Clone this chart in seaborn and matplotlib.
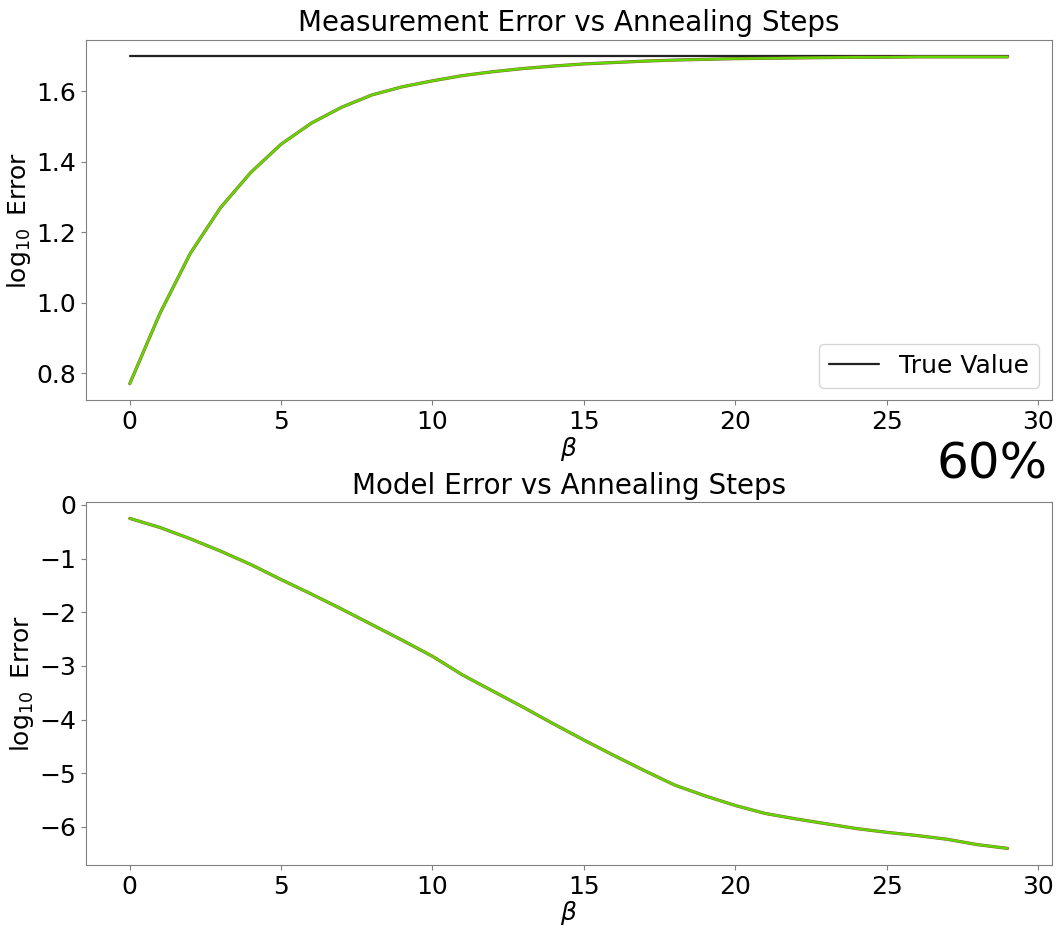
import matplotlib
matplotlib.use("Agg")
import matplotlib.pyplot as plt
import seaborn as sns
import pandas as pd

# Annealing steps (beta) and the logged errors at each step
beta = list(range(30))
measurement_err = [0.77, 0.97, 1.14, 1.27, 1.37, 1.45, 1.51, 1.555, 1.59, 1.613,
                   1.63, 1.645, 1.656, 1.665, 1.672, 1.678, 1.682, 1.686, 1.689, 1.691,
                   1.693, 1.694, 1.695, 1.696, 1.697, 1.697, 1.698, 1.698, 1.698, 1.698]
model_err = [-0.25, -0.42, -0.63, -0.86, -1.11, -1.39, -1.66, -1.94, -2.23, -2.52,
             -2.82, -3.17, -3.47, -3.77, -4.08, -4.38, -4.67, -4.95, -5.22, -5.42,
             -5.60, -5.75, -5.85, -5.94, -6.03, -6.10, -6.16, -6.23, -6.33, -6.40]
true_value = 1.70
progress_label = "60%"

sns.set_style("white")
plt.rcParams["font.family"] = ["DejaVu Sans"]
plt.rcParams["text.color"] = "black"
plt.rcParams["axes.labelcolor"] = "black"
plt.rcParams["axes.edgecolor"] = "#808080"
plt.rcParams["xtick.bottom"] = True
plt.rcParams["ytick.left"] = True
plt.rcParams["xtick.color"] = "#808080"
plt.rcParams["ytick.color"] = "#808080"
plt.rcParams["xtick.labelcolor"] = "black"
plt.rcParams["ytick.labelcolor"] = "black"

df_meas = pd.DataFrame({"beta": beta, "err": measurement_err})
df_model = pd.DataFrame({"beta": beta, "err": model_err})
df_true = pd.DataFrame({"beta": [beta[0], beta[-1]], "err": [true_value, true_value]})

fig = plt.figure(figsize=(10.6, 9.26), dpi=100)
ax1 = fig.add_axes([0.081, 0.568, 0.911, 0.389])
ax2 = fig.add_axes([0.081, 0.066, 0.911, 0.392])

under = "#8a5a3a"
green = "#62d800"

# top panel: measurement error approaching the true value
sns.lineplot(data=df_true, x="beta", y="err", ax=ax1, color="#222222", lw=1.6, label="True Value")
sns.lineplot(data=df_meas, x="beta", y="err", ax=ax1, color=under, lw=2.3, legend=False)
sns.lineplot(data=df_meas, x="beta", y="err", ax=ax1, color=green, lw=1.7, legend=False)
ax1.set_title("Measurement Error vs Annealing Steps", fontsize=20, color="black")
ax1.set_xlabel(r"$\beta$", fontsize=18, labelpad=1)
ax1.set_ylabel(r"$\log_{10}$ Error", fontsize=18, labelpad=2)
ax1.set_xticks([0, 5, 10, 15, 20, 25, 30])
ax1.set_yticks([0.8, 1.0, 1.2, 1.4, 1.6])
ax1.tick_params(labelsize=18)
leg = ax1.legend(loc="lower right", fontsize=18)
for t in leg.get_texts():
    t.set_color("black")

# bottom panel: model error decay
sns.lineplot(data=df_model, x="beta", y="err", ax=ax2, color=under, lw=2.3)
sns.lineplot(data=df_model, x="beta", y="err", ax=ax2, color=green, lw=1.7)
ax2.set_title("Model Error vs Annealing Steps", fontsize=20, color="black")
ax2.set_xlabel(r"$\beta$", fontsize=18, labelpad=0)
ax2.set_ylabel(r"$\log_{10}$ Error", fontsize=18, labelpad=2)
ax2.set_xticks([0, 5, 10, 15, 20, 25, 30])
ax2.set_yticks([0, -1, -2, -3, -4, -5, -6])
ax2.tick_params(labelsize=18)

fig.text(0.988, 0.472, progress_label, fontsize=36, ha="right", va="bottom", color="black")

fig.savefig("out.png", dpi=100)
